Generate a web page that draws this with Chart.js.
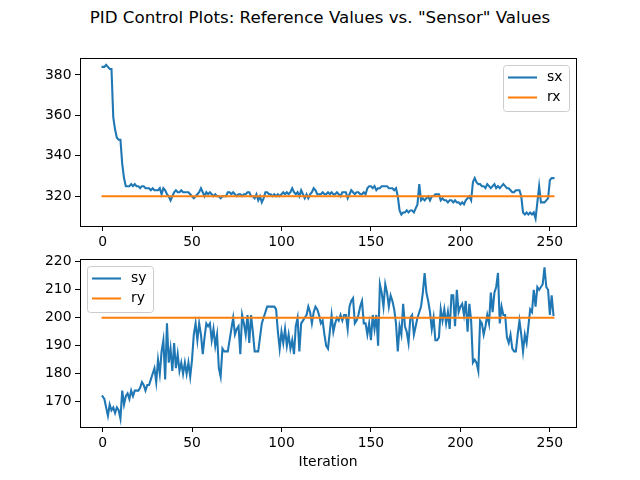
<!DOCTYPE html>
<html>
<head>
<meta charset="utf-8">
<script src="https://cdn.jsdelivr.net/npm/chart.js@4.4.0/dist/chart.umd.min.js"></script>
<style>
  body { margin: 0; background: #fff; }
  #wrap { position: relative; width: 640px; height: 480px; overflow: hidden; background: #fff; }
  #title { position: absolute; top: 7px; left: 0; width: 640px; text-align: center;
           font-family: "DejaVu Sans"; font-size: 16.7px; line-height: 20px; color: #000; }
  canvas { position: absolute; left: 0; }
</style>
</head>
<body>
<div id="wrap">
  <div id="title">PID Control Plots: Reference Values vs. "Sensor" Values</div>
  <canvas id="top-chart" width="640" height="246" style="top:0"></canvas>
  <canvas id="bottom-chart" width="640" height="234" style="top:246px"></canvas>
</div>
<script>
// --- Data ---
const sx = [
  384, 384, 385, 384, 383, 383, 359, 353, 349, 348,
  348, 336, 329, 325, 325, 325, 326, 325, 326, 325,
  325, 324, 325, 325, 324, 324, 324, 323, 324, 323,
  323, 323, 324, 321, 324, 323, 321, 320, 318, 320,
  322, 323, 322, 322, 323, 322, 322, 322, 322, 321,
  320, 319, 320, 321, 322, 324, 322, 320, 322, 321,
  322, 321, 320, 321, 320, 320, 319, 320, 320, 320,
  322, 322, 321, 322, 321, 320, 321, 321, 320, 321,
  321, 322, 322, 320, 320, 319, 321, 318, 320, 317,
  319, 322, 322, 321, 321, 320, 321, 320, 321, 320,
  321, 322, 321, 322, 321, 322, 324, 322, 321, 322,
  320, 323, 321, 319, 321, 319, 321, 322, 324, 323,
  321, 321, 321, 322, 321, 321, 322, 321, 322, 321,
  321, 322, 321, 320, 322, 322, 322, 319, 321, 323,
  322, 321, 322, 322, 321, 321, 322, 321, 324, 325,
  325, 324, 325, 323, 324, 324, 325, 325, 325, 325,
  324, 324, 324, 323, 324, 320, 313, 311, 312, 312,
  313, 312, 313, 313, 312, 314, 316, 326, 318, 319,
  318, 319, 320, 318, 320, 320, 321, 321, 321, 318,
  319, 318, 318, 317, 318, 318, 317, 318, 317, 317,
  316, 317, 316, 318, 319, 320, 318, 327, 329, 327,
  326, 326, 325, 325, 324, 326, 325, 324, 325, 326,
  324, 325, 324, 325, 326, 325, 324, 324, 323, 322,
  322, 323, 323, 323, 320, 312, 311, 312, 311, 312,
  311, 312, 309, 317, 325, 317, 317, 317, 318, 319,
  328, 329, 329
];
const sy = [
  172, 171, 168, 165, 169, 167, 168, 166, 168, 167,
  164, 174, 169, 172, 173, 171, 174, 172, 174, 174,
  174, 175, 177, 176, 174, 176, 176, 178, 180, 182,
  177, 185, 180, 188, 192, 178, 198, 184, 189, 181,
  191, 182, 187, 181, 184, 180, 184, 180, 184, 179,
  185, 194, 198, 192, 198, 194, 187, 193, 198, 197,
  198, 192, 196, 190, 194, 182, 179, 189, 188, 188,
  188, 192, 196, 200, 194, 196, 197, 187, 201, 198,
  194, 201, 191, 201, 195, 188, 188, 188, 193, 198,
  200, 202, 204, 204, 204, 204, 204, 203, 195, 189,
  195, 191, 196, 190, 194, 189, 192, 187, 197, 200,
  188, 198, 199, 200, 201, 204, 202, 198, 202, 204,
  203, 201, 198, 199, 194, 190, 189, 195, 201, 195,
  198, 200, 199, 201, 199, 201, 201, 196, 204, 206,
  207, 198, 199, 201, 204, 206, 198, 198, 194, 198,
  192, 201, 196, 201, 190, 212, 209, 204, 212, 209,
  204, 208, 206, 203, 198, 188, 197, 194, 205, 197,
  195, 191, 200, 201, 194, 197, 200, 202, 204, 209,
  216, 209, 206, 202, 196, 200, 192, 192, 193, 203,
  199, 203, 198, 202, 196, 208, 208, 197, 210, 202,
  204, 205, 201, 206, 195, 205, 199, 184, 185, 184,
  181, 199, 198, 194, 197, 201, 198, 209, 202, 209,
  211, 216, 198, 204, 201, 201, 193, 191, 194, 189,
  188, 188, 194, 199, 194, 188, 194, 191, 197, 203,
  202, 210, 204, 211, 210, 211, 212, 218, 211, 210,
  201, 208, 201
];
const rxSetpoint = 320;
const rySetpoint = 200;
const xTicks = [0, 50, 100, 150, 200, 250];
const sxTicks = [320, 340, 360, 380];
const syTicks = [170, 180, 190, 200, 210, 220];

const BLUE = '#1f77b4';
const ORANGE = '#ff7f0e';
const FONT = { family: 'DejaVu Sans', size: 13.9 };

Chart.defaults.font.family = 'DejaVu Sans';
Chart.defaults.color = '#000';

const iterations = sx.map((_, i) => i);
const lastIter = iterations[iterations.length - 1];

function toPoints(values) {
    return values.map((v, i) => ({ x: iterations[i], y: v }));
}
function flatLine(value) {
    return [{ x: iterations[0], y: value }, { x: lastIter, y: value }];
}

// --- Frame + legend inside axes ---
const frameAndLegend = {
    id: 'frameAndLegend',
    afterDatasetsDraw(chart, args, opts) {
        const { ctx, chartArea: a } = chart;
        const w = 66, h = 46;
        const bx = opts.side === 'right' ? a.right - 7 - w : a.left + 7;
        const by = a.top + 7;
        ctx.save();
        ctx.beginPath();
        ctx.roundRect(bx + 0.5, by + 0.5, w, h, 3);
        ctx.fillStyle = 'rgba(255,255,255,0.8)';
        ctx.fill();
        ctx.strokeStyle = '#cccccc';
        ctx.lineWidth = 1;
        ctx.stroke();
        chart.data.datasets.forEach((ds, i) => {
            const y = by + 12.5 + i * 20;
            ctx.beginPath();
            ctx.moveTo(bx + 5, y);
            ctx.lineTo(bx + 34, y);
            ctx.strokeStyle = ds.borderColor;
            ctx.lineWidth = 2.08;
            ctx.stroke();
            ctx.fillStyle = '#000';
            ctx.font = '13.9px "DejaVu Sans"';
            ctx.textBaseline = 'middle';
            ctx.fillText(ds.label, bx + 44, y);
        });
        ctx.strokeStyle = '#000';
        ctx.lineWidth = 1;
        ctx.strokeRect(Math.round(a.left) + 0.5, Math.round(a.top) + 0.5,
            Math.round(a.right - a.left), Math.round(a.bottom - a.top));
        ctx.restore();
    }
};

function makeChart(id, series, setpoint, names, yMin, yMax, yTicks, opt) {
    return new Chart(document.getElementById(id), {
        type: 'line',
        data: {
            datasets: [
                { label: names[0], data: toPoints(series), borderColor: BLUE, order: 1 },
                { label: names[1], data: flatLine(setpoint), borderColor: ORANGE, order: 0 }
            ]
        },
        options: {
            responsive: false,
            animation: false,
            parsing: false,
            elements: {
                line: { borderWidth: 2.08, tension: 0, fill: false, borderCapStyle: 'square' },
                point: { radius: 0 }
            },
            layout: { padding: { top: opt.padTop, right: 64, left: 0, bottom: 0 } },
            plugins: {
                legend: { display: false },
                tooltip: { enabled: false },
                frameAndLegend: { side: opt.legendSide }
            },
            scales: {
                x: {
                    type: 'linear', min: -12.6, max: 264.6,
                    afterBuildTicks: s => { s.ticks = xTicks.map(v => ({ value: v })); },
                    afterFit: s => { s.height = opt.xHeight; },
                    ticks: { font: FONT, color: '#000', padding: 3.5, maxRotation: 0, autoSkip: false },
                    grid: { drawOnChartArea: false, drawTicks: true, tickLength: 5, tickColor: '#000', tickWidth: 1 },
                    border: { display: false },
                    title: opt.xTitle
                        ? { display: true, text: opt.xTitle, font: FONT, color: '#000', padding: { top: 0, bottom: 9 } }
                        : { display: false }
                },
                y: {
                    type: 'linear', min: yMin, max: yMax,
                    afterBuildTicks: s => { s.ticks = yTicks.map(v => ({ value: v })); },
                    afterFit: s => { s.width = 80; },
                    ticks: { font: FONT, color: '#000', padding: 3.5, autoSkip: false },
                    grid: { drawOnChartArea: false, drawTicks: true, tickLength: 5, tickColor: '#000', tickWidth: 1 },
                    border: { display: false }
                }
            }
        },
        plugins: [frameAndLegend]
    });
}

makeChart('top-chart', sx, rxSetpoint, ['sx', 'rx'], 305.3, 388.4, sxTicks,
    { padTop: 58, xHeight: 20, legendSide: 'right' });
makeChart('bottom-chart', sy, rySetpoint, ['sy', 'ry'], 161.0, 221.0, syTicks,
    { padTop: 13, xHeight: 53, legendSide: 'left', xTitle: 'Iteration' });
</script>
</body>
</html>
